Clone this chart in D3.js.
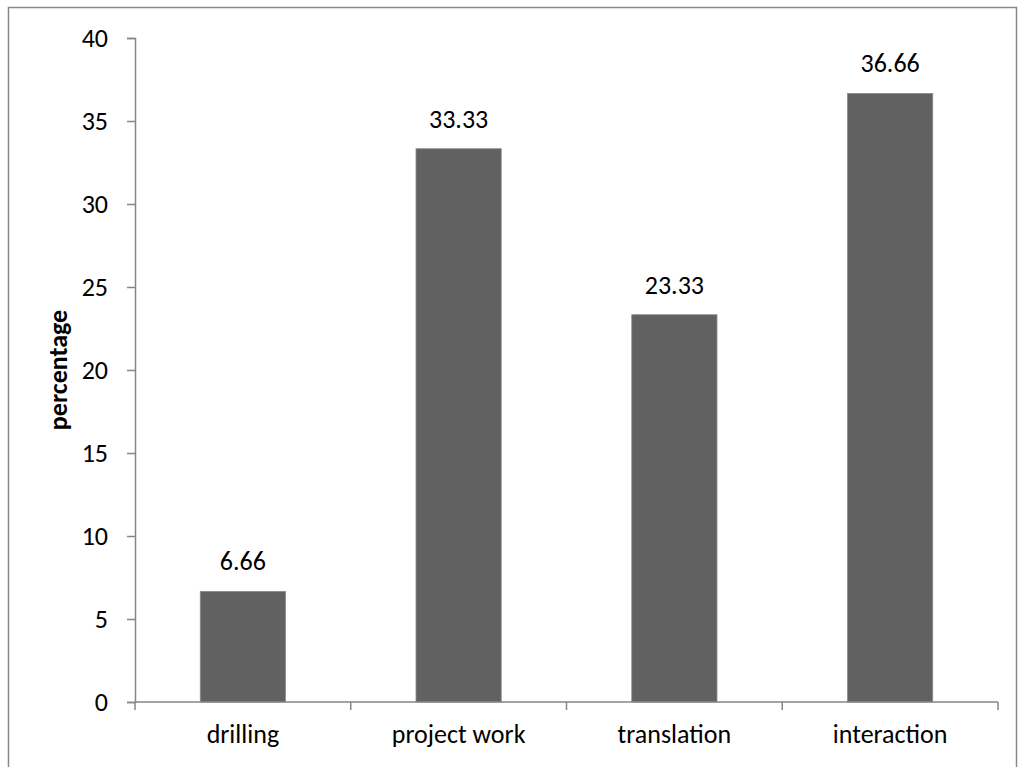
<!DOCTYPE html>
<html><head><meta charset="utf-8">
<script src="https://cdn.jsdelivr.net/npm/d3@7"></script>
<style>body{margin:0;background:#fff;} text{font-family:Carlito,Calibri,"Open Sans",sans-serif;}</style>
</head><body>
<svg id="chart" width="1022" height="767"></svg>
<script>
const categories = ["drilling", "project work", "translation", "interaction"];
const values = [6.66, 33.33, 23.33, 36.66];
const valueLabels = ["6.66", "33.33", "23.33", "36.66"];
const yTicks = [0, 5, 10, 15, 20, 25, 30, 35, 40];
const yTitle = "percentage";

const FS = 26;
const svg = d3.select("#chart");
svg.append("rect").attr("x", 8.5).attr("y", 7.5).attr("width", 1008).attr("height", 770)
  .attr("fill", "none").attr("stroke", "#888").attr("stroke-width", 1.5);

const pL = 135, pR = 998, pT = 38, pB = 702;
const x = d3.scaleBand().domain(categories).range([pL, pR]).paddingInner(0.605).paddingOuter(0.3025);
const y = d3.scaleLinear().domain([0, 40]).range([pB, pT]);
const axisColor = "#868686";

// y axis
const ya = svg.append("g").attr("transform", `translate(${pL},0)`)
  .call(d3.axisLeft(y).tickValues(yTicks).tickSize(8).tickPadding(19));
ya.select(".domain").attr("stroke", axisColor).attr("stroke-width", 1.5);
ya.selectAll(".tick line").attr("stroke", axisColor).attr("stroke-width", 1.5);
ya.selectAll(".tick text").attr("font-size", FS).attr("fill", "#000")
  .style("font-family", "Carlito,Calibri,'Open Sans',sans-serif");

// bars
svg.selectAll("rect.bar").data(values).join("rect").attr("class", "bar")
  .attr("x", (d, i) => x(categories[i])).attr("width", x.bandwidth())
  .attr("y", d => y(d)).attr("height", d => pB - y(d))
  .attr("fill", "#616161").attr("stroke", "#8a8a8a").attr("stroke-width", 0.8);

// x axis
const step = (pR - pL) / categories.length;
const xg = svg.append("g");
xg.append("line").attr("x1", pL).attr("x2", pR).attr("y1", pB).attr("y2", pB)
  .attr("stroke", axisColor).attr("stroke-width", 1.5);
xg.selectAll("line.tk").data(d3.range(categories.length + 1)).join("line").attr("class", "tk")
  .attr("x1", i => pL + i * step).attr("x2", i => pL + i * step)
  .attr("y1", pB).attr("y2", pB + 8).attr("stroke", axisColor).attr("stroke-width", 1.5);
xg.selectAll("text").data(categories).join("text")
  .attr("x", d => x(d) + x.bandwidth() / 2).attr("y", 743)
  .attr("text-anchor", "middle").attr("font-size", FS).text(d => d);

// value labels
svg.selectAll("text.val").data(values).join("text").attr("class", "val")
  .attr("x", (d, i) => x(categories[i]) + x.bandwidth() / 2).attr("y", d => y(d) - 21)
  .attr("text-anchor", "middle").attr("font-size", FS).text((d, i) => valueLabels[i]);

// y title
svg.append("text").attr("transform", `translate(67,${(pT + pB) / 2}) rotate(-90)`)
  .attr("text-anchor", "middle").attr("font-size", FS).attr("font-weight", "bold").text(yTitle);
</script>
</body></html>
